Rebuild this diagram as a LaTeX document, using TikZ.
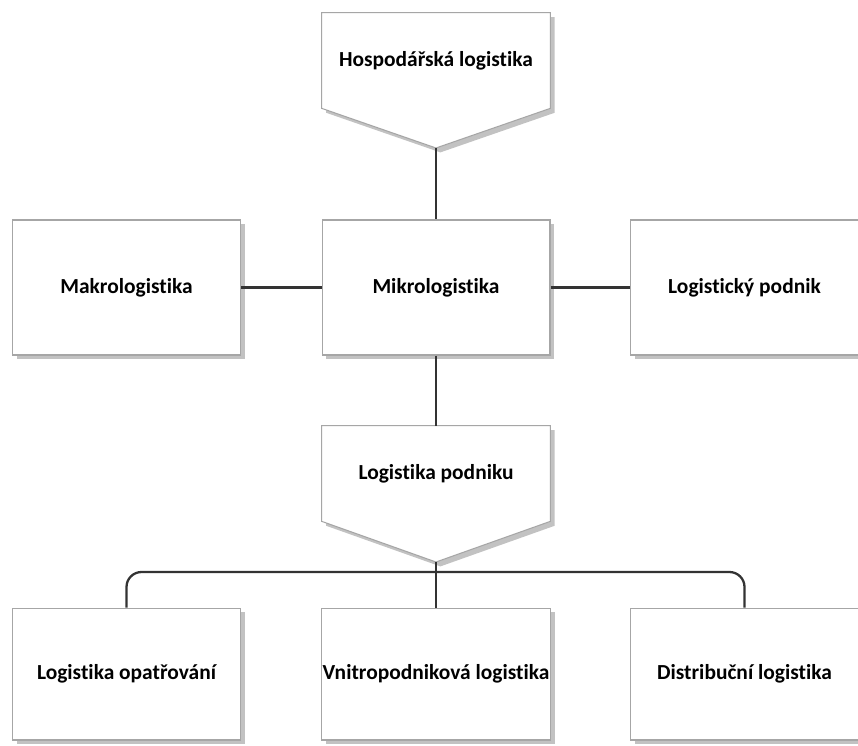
\documentclass[tikz,border=0pt]{standalone}
\usepackage{fontspec}
\setmainfont{Carlito}[Ligatures={NoCommon}]
\usetikzlibrary{shadows,backgrounds}

\begin{document}
\begin{tikzpicture}[
  x=0.02cm, y=-0.02cm,
  every node/.style={font=\bfseries\fontsize{12.2}{14}\selectfont},
  box/.style={draw=black!35, fill=white, line width=0.6pt, inner xsep=0.5pt,
    minimum width=4.56cm, minimum height=2.7cm,
    drop shadow={shadow xshift=2.5pt, shadow yshift=-2.5pt, fill=black!40, opacity=0.6}},
  headtext/.style={minimum width=4.56cm, minimum height=1.9cm},
  penta/.style={draw=black!35, fill=white, line width=0.6pt,
    drop shadow={shadow xshift=2.5pt, shadow yshift=-2.5pt, fill=black!40, opacity=0.6}},
  link/.style={draw=black!80, line width=1.3pt}
]
\useasboundingbox (0,0) rectangle (858,745);

% upper level
\node[headtext] (hosp) at (436,60.5) {Hospodářská logistika};
\coordinate (hosptip) at (436,148);

\node[box] (makro) at (126.5,287.5) {Makrologistika};
\node[box] (mikro) at (436,287.5) {Mikrologistika};
\node[box] (podnik) at (744.5,287.5) {Logistický podnik};

% company level
\node[headtext] (podniku) at (436,473.5) {Logistika podniku};
\coordinate (podnikutip) at (436,562);
\coordinate (fork) at (436,572);

\node[box, minimum height=2.64cm] (opatr) at (126.5,674) {Logistika opatřování};
\node[box, minimum height=2.64cm] (vnitro) at (436,674) {Vnitropodniková logistika};
\node[box, minimum height=2.64cm] (distr) at (744.5,674) {Distribuční logistika};

\begin{scope}[on background layer]
  \draw[penta] (hosp.north west) -- (hosp.north east) -- (hosp.south east)
    -- (hosptip) -- (hosp.south west) -- cycle;
  \draw[penta] (podniku.north west) -- (podniku.north east) -- (podniku.south east)
    -- (podnikutip) -- (podniku.south west) -- cycle;
\end{scope}

\draw[link] (hosptip) -- (mikro);
\draw[link] (makro) -- (mikro);
\draw[link] (mikro) -- (podnik);
\draw[link] (mikro) -- (podniku.north);
\draw[link] (podnikutip) -- (vnitro);
\draw[link, rounded corners=0.3cm] (opatr.north) |- (fork) -| (distr.north);
\end{tikzpicture}
\end{document}
